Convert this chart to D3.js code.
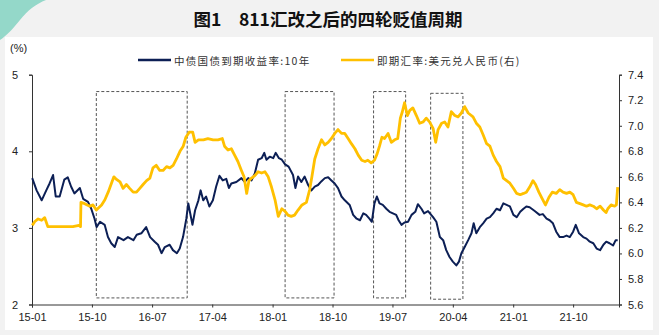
<!DOCTYPE html>
<html>
<head>
<meta charset="utf-8">
<script src="https://cdn.jsdelivr.net/npm/d3@7"></script>
<style>
  html, body { margin: 0; padding: 0; background: #f2f2f2; }
  svg { display: block; }
</style>
</head>
<body>
<svg id="chart" width="659" height="335"></svg>
<script>
// 中债国债到期收益率:10年 (%)
const bondDates = ["2015-01-02","2015-01-22","2015-02-14","2015-03-07","2015-03-22","2015-04-07","2015-04-19","2015-05-07","2015-05-28","2015-06-13","2015-06-28","2015-07-13","2015-08-07","2015-08-22","2015-09-13","2015-09-28","2015-10-13","2015-10-22","2015-11-07","2015-11-28","2015-12-13","2015-12-28","2016-01-13","2016-01-28","2016-02-22","2016-03-13","2016-04-07","2016-04-22","2016-05-13","2016-06-04","2016-06-22","2016-07-13","2016-07-28","2016-08-13","2016-08-28","2016-09-19","2016-10-04","2016-10-22","2016-11-04","2016-11-19","2016-12-04","2016-12-13","2016-12-19","2017-01-01","2017-01-13","2017-01-28","2017-02-07","2017-02-19","2017-03-04","2017-03-19","2017-04-04","2017-04-19","2017-05-04","2017-05-19","2017-06-04","2017-06-16","2017-06-27","2017-07-20","2017-08-12","2017-08-27","2017-09-12","2017-09-27","2017-10-12","2017-10-27","2017-11-12","2017-11-24","2017-12-04","2017-12-19","2018-01-04","2018-01-15","2018-01-30","2018-02-12","2018-02-27","2018-03-15","2018-04-04","2018-04-15","2018-04-27","2018-05-12","2018-05-27","2018-06-12","2018-06-27","2018-07-12","2018-07-27","2018-08-12","2018-08-27","2018-09-11","2018-09-26","2018-10-11","2018-10-26","2018-11-11","2018-11-26","2018-12-18","2019-01-03","2019-01-19","2019-02-03","2019-02-18","2019-03-03","2019-03-18","2019-03-29","2019-04-10","2019-04-21","2019-05-03","2019-05-18","2019-06-03","2019-06-18","2019-07-03","2019-07-18","2019-07-29","2019-08-11","2019-08-25","2019-09-10","2019-09-26","2019-10-13","2019-10-25","2019-11-10","2019-11-22","2019-12-10","2020-01-02","2020-01-17","2020-02-02","2020-02-17","2020-03-02","2020-03-17","2020-04-01","2020-04-17","2020-04-29","2020-05-10","2020-05-25","2020-06-10","2020-06-25","2020-07-05","2020-07-17","2020-08-02","2020-08-17","2020-09-02","2020-09-17","2020-10-02","2020-10-17","2020-11-02","2020-11-17","2020-12-02","2020-12-17","2021-01-02","2021-01-17","2021-02-02","2021-02-17","2021-03-02","2021-03-17","2021-04-09","2021-05-01","2021-05-16","2021-06-02","2021-06-16","2021-07-01","2021-07-16","2021-08-01","2021-08-16","2021-09-01","2021-09-16","2021-10-01","2021-10-13","2021-10-28","2021-11-16","2021-12-01","2021-12-16","2022-01-01","2022-01-16","2022-02-01","2022-02-16","2022-03-01","2022-03-16","2022-04-01","2022-04-13","2022-04-22"];
const bondYield = [3.65,3.49,3.36,3.49,3.58,3.69,3.41,3.41,3.63,3.66,3.54,3.45,3.52,3.38,3.34,3.25,3.12,3.01,3.08,3.04,2.88,2.80,2.75,2.88,2.84,2.88,2.84,2.91,2.93,3.01,2.88,2.82,2.78,2.67,2.75,2.78,2.71,2.67,2.73,2.88,3.12,3.32,3.23,3.04,3.23,3.36,3.49,3.36,3.41,3.28,3.36,3.54,3.68,3.62,3.64,3.52,3.58,3.60,3.65,3.60,3.65,3.62,3.71,3.89,3.91,3.98,3.89,3.93,3.91,3.98,3.91,3.89,3.83,3.80,3.69,3.52,3.67,3.60,3.67,3.56,3.49,3.54,3.56,3.61,3.65,3.66,3.62,3.58,3.52,3.41,3.36,3.30,3.17,3.12,3.10,3.19,3.17,3.12,3.08,3.32,3.41,3.32,3.30,3.25,3.21,3.19,3.17,3.10,3.04,3.07,3.08,3.17,3.21,3.31,3.25,3.19,3.22,3.14,3.08,2.88,2.84,2.71,2.62,2.56,2.51,2.56,2.67,2.75,2.84,2.93,3.06,2.93,3.01,3.06,3.12,3.14,3.19,3.25,3.23,3.32,3.30,3.28,3.17,3.14,3.21,3.25,3.28,3.27,3.22,3.17,3.18,3.12,3.10,3.06,2.95,2.88,2.88,2.90,2.88,2.95,3.04,2.93,2.88,2.86,2.82,2.80,2.73,2.71,2.78,2.82,2.80,2.77,2.84,2.84];

// 即期汇率:美元兑人民币 (右轴)
const fxDates = ["2015-01-02","2015-01-14","2015-01-29","2015-02-14","2015-02-28","2015-03-14","2015-04-07","2015-05-07","2015-06-07","2015-07-06","2015-08-03","2015-08-10","2015-08-12","2015-08-29","2015-09-21","2015-10-06","2015-10-21","2015-11-14","2015-11-29","2015-12-14","2015-12-29","2016-01-09","2016-01-21","2016-02-06","2016-02-20","2016-03-06","2016-03-21","2016-04-06","2016-04-21","2016-05-06","2016-05-21","2016-06-06","2016-06-21","2016-07-05","2016-07-20","2016-08-05","2016-08-20","2016-09-05","2016-09-20","2016-10-05","2016-10-20","2016-11-05","2016-11-20","2016-12-02","2016-12-17","2017-01-02","2017-01-13","2017-01-28","2017-02-20","2017-03-12","2017-04-05","2017-04-27","2017-05-17","2017-05-27","2017-06-12","2017-06-27","2017-07-12","2017-07-27","2017-08-12","2017-08-24","2017-09-05","2017-09-15","2017-09-27","2017-10-12","2017-10-27","2017-11-12","2017-11-27","2017-12-12","2017-12-27","2018-01-12","2018-01-27","2018-02-12","2018-02-27","2018-03-12","2018-03-27","2018-04-11","2018-04-27","2018-05-15","2018-06-04","2018-06-19","2018-06-29","2018-07-12","2018-07-27","2018-08-12","2018-08-27","2018-09-11","2018-09-26","2018-10-11","2018-10-26","2018-11-11","2018-11-26","2018-12-11","2018-12-26","2019-01-11","2019-01-26","2019-02-11","2019-02-26","2019-03-11","2019-03-26","2019-04-10","2019-04-22","2019-05-03","2019-05-14","2019-05-26","2019-06-11","2019-06-26","2019-07-11","2019-07-25","2019-08-06","2019-08-15","2019-08-25","2019-09-07","2019-09-18","2019-10-02","2019-10-18","2019-11-02","2019-11-18","2019-12-02","2019-12-17","2020-01-02","2020-01-14","2020-01-25","2020-02-10","2020-02-24","2020-03-10","2020-03-25","2020-04-10","2020-04-25","2020-05-10","2020-05-25","2020-06-10","2020-07-02","2020-07-17","2020-08-02","2020-08-17","2020-09-02","2020-09-17","2020-10-02","2020-10-17","2020-11-02","2020-11-17","2020-12-02","2020-12-17","2021-01-02","2021-01-17","2021-02-02","2021-02-17","2021-03-02","2021-03-17","2021-04-01","2021-04-13","2021-04-28","2021-05-13","2021-05-28","2021-06-13","2021-06-28","2021-07-16","2021-08-01","2021-08-16","2021-09-01","2021-09-16","2021-10-01","2021-10-16","2021-11-01","2021-11-16","2021-12-01","2021-12-16","2022-01-01","2022-01-16","2022-02-01","2022-02-16","2022-02-28","2022-03-08","2022-03-23","2022-04-08","2022-04-16","2022-04-22"];
const fxRate = [6.22,6.25,6.27,6.26,6.28,6.21,6.21,6.21,6.21,6.21,6.22,6.21,6.40,6.39,6.37,6.38,6.34,6.38,6.42,6.48,6.55,6.60,6.58,6.56,6.51,6.54,6.51,6.48,6.48,6.51,6.54,6.57,6.59,6.67,6.69,6.65,6.65,6.68,6.67,6.69,6.74,6.80,6.84,6.91,6.95,6.95,6.87,6.89,6.89,6.90,6.89,6.89,6.90,6.84,6.81,6.82,6.77,6.72,6.65,6.60,6.47,6.57,6.59,6.61,6.64,6.63,6.64,6.60,6.52,6.42,6.29,6.35,6.33,6.30,6.29,6.30,6.34,6.38,6.40,6.50,6.60,6.74,6.82,6.89,6.85,6.87,6.90,6.94,6.97,6.94,6.94,6.90,6.86,6.82,6.77,6.73,6.72,6.73,6.71,6.73,6.78,6.84,6.91,6.90,6.94,6.87,6.89,6.90,7.06,7.11,7.18,7.08,7.12,7.14,7.08,7.02,7.03,7.06,7.03,6.98,6.87,6.97,7.02,7.03,6.99,7.11,7.08,7.07,7.10,7.15,7.10,7.07,7.02,6.99,6.93,6.86,6.84,6.77,6.72,6.68,6.59,6.57,6.55,6.51,6.47,6.46,6.47,6.48,6.52,6.57,6.54,6.48,6.43,6.38,6.44,6.48,6.47,6.50,6.48,6.47,6.48,6.46,6.40,6.39,6.38,6.37,6.38,6.37,6.35,6.37,6.34,6.32,6.35,6.38,6.37,6.38,6.52];

// 贬值周期区间
const cycleStarts = ["2015-10-21","2018-02-27","2019-04-06","2019-12-22"];
const cycleEnds   = ["2016-12-08","2018-10-08","2019-08-30","2020-05-17"];
const cycleTop    = [4.78, 4.78, 4.78, 4.757];
const cycleBottom = [2.086, 2.086, 2.086, 2.069];

const xTickDates = ["2015-01-01","2015-10-01","2016-07-01","2017-04-01","2018-01-01","2018-10-01","2019-07-01","2020-04-01","2021-01-01","2021-10-01"];
const leftTicks = [2, 3, 4, 5];
const rightTicks = [5.6, 5.8, 6.0, 6.2, 6.4, 6.6, 6.8, 7.0, 7.2, 7.4];

const titleText = "图1\u2003811汇改之后的四轮贬值周期";
const unitText = "(%)";
const bondName = "中债国债到期收益率:10年";
const fxName = "即期汇率:美元兑人民币(右)";

const parse = d3.timeParse("%Y-%m-%d");
const bond = bondDates.map((d, i) => ({date: parse(d), value: bondYield[i]}));
const fx = fxDates.map((d, i) => ({date: parse(d), value: fxRate[i]}));

const svg = d3.select("#chart");
const navy = "#0c1f55", gold = "#ffc000";

// background decoration and panel
svg.append("path")
  .attr("d", "M0,0 L46,0 C36,4 28,10 20,20 C12,30 6,36 0,40 Z")
  .attr("fill", "#94d8c9");
svg.append("rect").attr("x", 5).attr("y", 37).attr("width", 648).attr("height", 293).attr("fill", "#ffffff");

svg.append("text")
  .attr("x", 328).attr("y", 18)
  .attr("text-anchor", "middle").attr("dominant-baseline", "central")
  .attr("font-family", "'Noto Sans CJK SC', sans-serif")
  .attr("font-weight", "bold").attr("font-size", 17.5).attr("fill", "#111")
  .text(titleText);

const x = d3.scaleTime().domain([parse("2015-01-01"), parse("2022-04-28")]).range([32, 619]);
const yL = d3.scaleLinear().domain([2, 5]).range([304.5, 74.7]);
const yR = d3.scaleLinear().domain([5.6, 7.4]).range([304.5, 74.7]);

const axisFont = "'Liberation Sans', Arial, sans-serif";

const gx = svg.append("g").attr("transform", "translate(0,304.5)")
  .call(d3.axisBottom(x).tickValues(xTickDates.map(parse)).tickFormat(d3.timeFormat("%y-%m")).tickSizeOuter(0).tickSize(3).tickPadding(6));
const gl = svg.append("g").attr("transform", "translate(32,0)")
  .call(d3.axisLeft(yL).tickValues(leftTicks).tickFormat(d3.format("d")).tickSizeOuter(0).tickSize(3).tickPadding(11));
const gr = svg.append("g").attr("transform", "translate(619,0)")
  .call(d3.axisRight(yR).tickValues(rightTicks).tickFormat(d3.format(".1f")).tickSizeOuter(0).tickSize(3).tickPadding(6));

[gx, gl, gr].forEach(g => {
  g.selectAll("path.domain").attr("stroke", "#333");
  g.selectAll(".tick line").attr("stroke", "#333");
  g.selectAll("text").attr("font-family", axisFont).attr("font-size", 11).attr("fill", "#222");
});

svg.append("text").attr("x", 10).attr("y", 52)
  .attr("font-family", axisFont).attr("font-size", 11).attr("fill", "#222")
  .text(unitText);

// dashed boxes marking the depreciation cycles
svg.append("g").selectAll("rect")
  .data(cycleStarts.map((s, i) => ({s: parse(s), e: parse(cycleEnds[i]), t: cycleTop[i], b: cycleBottom[i]})))
  .join("rect")
  .attr("x", d => x(d.s)).attr("y", d => yL(d.t))
  .attr("width", d => x(d.e) - x(d.s)).attr("height", d => yL(d.b) - yL(d.t))
  .attr("fill", "none").attr("stroke", "#555").attr("stroke-width", 1)
  .attr("stroke-dasharray", "3,2");

const lineL = d3.line().x(d => x(d.date)).y(d => yL(d.value));
const lineR = d3.line().x(d => x(d.date)).y(d => yR(d.value));

svg.append("path").datum(bond).attr("d", lineL)
  .attr("fill", "none").attr("stroke", navy).attr("stroke-width", 2).attr("stroke-linejoin", "round");
svg.append("path").datum(fx).attr("d", lineR)
  .attr("fill", "none").attr("stroke", gold).attr("stroke-width", 2.8).attr("stroke-linejoin", "round");

// legend
const legend = [
  {name: bondName, color: navy, x: 138},
  {name: fxName, color: gold, x: 341}
];
const lg = svg.append("g");
legend.forEach(l => {
  lg.append("line").attr("x1", l.x).attr("x2", l.x + 33).attr("y1", 60).attr("y2", 60)
    .attr("stroke", l.color).attr("stroke-width", 2.5);
  lg.append("text").attr("x", l.x + 36).attr("y", 60).attr("dominant-baseline", "central")
    .attr("font-family", "'Noto Sans CJK SC', sans-serif").attr("font-size", 10.5)
    .attr("letter-spacing", "1.3px").attr("fill", "#333").text(l.name);
});
</script>
</body>
</html>
